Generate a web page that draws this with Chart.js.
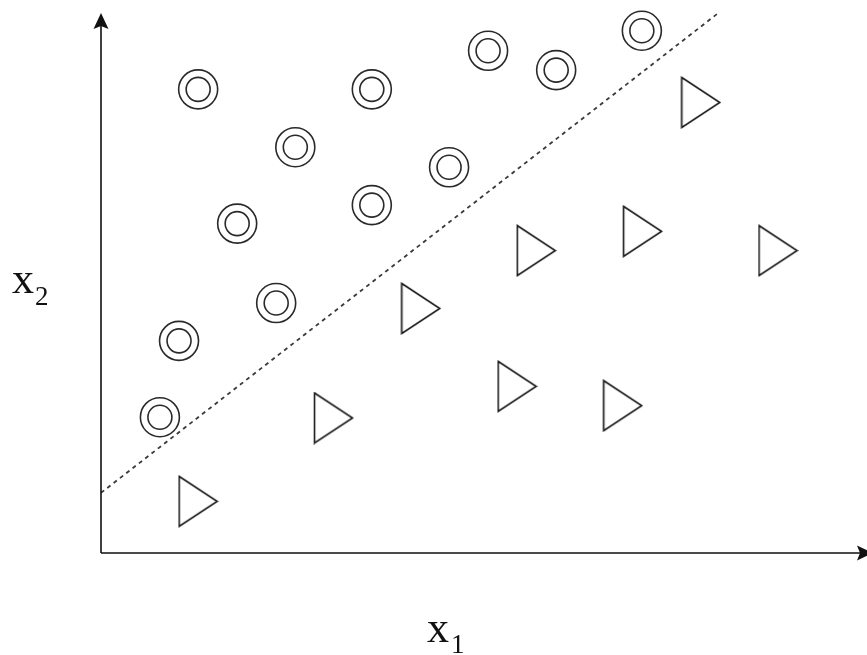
<!DOCTYPE html>
<html>
<head>
<meta charset="utf-8">
<script src="https://cdn.jsdelivr.net/npm/chart.js@4.4.1/dist/chart.umd.min.js"></script>
<style>
  html, body { margin: 0; padding: 0; background: #fff; }
  #wrap { width: 867px; height: 655px; position: relative; }
</style>
</head>
<body>
<div id="wrap"><canvas id="chart"></canvas></div>
<script>
// axis ranges (arbitrary units)
const X_MAX = 10
const Y_MAX = 7

// class 1 : double circles
const circleX = [1.27, 3.54, 5.06, 5.95, 7.07, 2.54, 4.55, 1.78, 3.54, 2.29, 1.02, 0.77]
const circleY = [6.01, 6.01, 6.51, 6.26, 6.77, 5.26, 5.00, 4.27, 4.51, 3.24, 2.75, 1.76]

// class 2 : triangles
const triangleX = [7.84, 5.69, 7.08, 8.85, 4.18, 5.44, 6.82, 3.04, 1.27]
const triangleY = [5.84, 3.92, 4.17, 3.92, 3.17, 2.16, 1.91, 1.75, 0.67]

// separating line
const boundaryX = [0, 8.07]
const boundaryY = [0.78, 7.0]

const xLabel = ["x", "1"]
const yLabel = ["x", "2"]

const toPoints = (xs, ys) => xs.map((x, i) => ({ x: x, y: ys[i] }))

// right pointing triangle glyph
const tri = document.createElement("canvas")
tri.width = 41
tri.height = 53
const tctx = tri.getContext("2d")
tctx.strokeStyle = "#1a1a1a"
tctx.lineWidth = 1.6
tctx.lineJoin = "miter"
tctx.beginPath()
tctx.moveTo(1.5, 1.5)
tctx.lineTo(39.5, 26.5)
tctx.lineTo(1.5, 51.5)
tctx.closePath()
tctx.stroke()

const axesPlugin = {
    id: "axes",
    afterDraw(chart) {
        const ctx = chart.ctx
        const xs = chart.scales.x
        const ys = chart.scales.y
        const ox = xs.getPixelForValue(0)
        const oy = ys.getPixelForValue(0)
        const xe = xs.getPixelForValue(X_MAX)
        const ye = ys.getPixelForValue(Y_MAX)

        ctx.save()
        ctx.strokeStyle = "#111"
        ctx.fillStyle = "#111"
        ctx.lineWidth = 1.6
        ctx.beginPath()
        ctx.moveTo(ox, oy)
        ctx.lineTo(ox, ye + 12)
        ctx.moveTo(ox, oy)
        ctx.lineTo(xe - 6, oy)
        ctx.stroke()

        // arrow heads
        ctx.beginPath()
        ctx.moveTo(ox, ye)
        ctx.lineTo(ox + 7.5, ye + 16)
        ctx.lineTo(ox, ye + 13)
        ctx.lineTo(ox - 7.5, ye + 16)
        ctx.closePath()
        ctx.fill()

        const tip = xe + 7
        ctx.beginPath()
        ctx.moveTo(tip, oy)
        ctx.lineTo(tip - 16, oy - 7.5)
        ctx.lineTo(tip - 13, oy)
        ctx.lineTo(tip - 16, oy + 7.5)
        ctx.closePath()
        ctx.fill()

        // axis labels
        ctx.textBaseline = "alphabetic"
        ctx.textAlign = "left"
        ctx.font = "44px 'Liberation Serif', 'Times New Roman', serif"
        ctx.fillText(xLabel[0], 427, 642)
        ctx.fillText(yLabel[0], 12, 293)
        ctx.font = "27px 'Liberation Serif', 'Times New Roman', serif"
        ctx.fillText(xLabel[1], 451, 653)
        ctx.fillText(yLabel[1], 35, 305)
        ctx.restore()
    }
}

new Chart(document.getElementById("chart"), {
    type: "scatter",
    data: {
        datasets: [
            {
                label: "boundary",
                type: "line",
                data: toPoints(boundaryX, boundaryY),
                borderColor: "#3a3a3a",
                borderWidth: 1.8,
                borderDash: [4, 4],
                pointRadius: 0,
                fill: false,
                clip: false
            },
            {
                label: "circles outer",
                data: toPoints(circleX, circleY),
                pointStyle: "circle",
                pointRadius: 19.5,
                borderColor: "#2a2a2a",
                borderWidth: 1.6,
                backgroundColor: "rgba(0,0,0,0)",
                clip: false
            },
            {
                label: "circles inner",
                data: toPoints(circleX, circleY),
                pointStyle: "circle",
                pointRadius: 12,
                borderColor: "#2a2a2a",
                borderWidth: 1.6,
                backgroundColor: "rgba(0,0,0,0)",
                clip: false
            },
            {
                label: "triangles",
                data: toPoints(triangleX, triangleY),
                pointStyle: tri,
                clip: false
            }
        ]
    },
    options: {
        responsive: true,
        maintainAspectRatio: false,
        animation: false,
        events: [],
        layout: {
            autoPadding: false,
            padding: { left: 101, right: 1, top: 13, bottom: 102 }
        },
        plugins: {
            legend: { display: false },
            tooltip: { enabled: false }
        },
        scales: {
            x: { type: "linear", display: false, min: 0, max: X_MAX },
            y: { type: "linear", display: false, min: 0, max: Y_MAX }
        }
    },
    plugins: [axesPlugin]
})
</script>
</body>
</html>
